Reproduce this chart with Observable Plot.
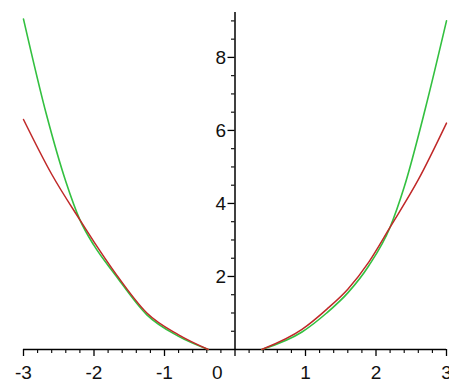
<!DOCTYPE html>
<html>
<head>
<meta charset="utf-8">
<script src="https://cdn.jsdelivr.net/npm/d3@7"></script>
<script src="https://cdn.jsdelivr.net/npm/@observablehq/plot@0.6"></script>
<style>
  html, body { margin: 0; padding: 0; background: #fff; }
  svg { display: block; }
</style>
</head>
<body>
<div id="chart"></div>
<script>
// Values
const redLeftX  = [-3.0, -2.6, -2.2, -2.0, -1.7, -1.25, -0.8, -0.38];
const redLeftY  = [6.3, 4.8, 3.55, 2.95, 2.1, 1.0, 0.4, 0.0];
const greenLeftX = [-3.0, -2.67, -2.4, -2.2, -2.0, -1.7, -1.25, -0.8, -0.38];
const greenLeftY = [9.05, 6.4, 4.6, 3.55, 2.85, 2.05, 0.95, 0.36, 0.0];
const redRightX = [0.38, 0.95, 1.3, 1.6, 1.9, 2.2, 2.6, 3.0];
const redRightY = [0.0, 0.55, 1.1, 1.65, 2.4, 3.35, 4.65, 6.2];
const greenRightX = [0.38, 0.95, 1.3, 1.6, 1.9, 2.2, 2.4, 2.7, 3.0];
const greenRightY = [0.0, 0.48, 1.0, 1.55, 2.3, 3.35, 4.45, 6.6, 9.0];

const xMajor = [-3, -2, -1, 0, 1, 2, 3];
const xLabels = ["-3", "-2", "-1", "0", "1", "2", "3"];
const yMajor = [2, 4, 6, 8];
const yLabels = ["2", "4", "6", "8"];
const yTop = 9.23;

const seg = (xs, ys, series, part) => xs.map((x, i) => ({x, y: ys[i], series, part}));
const curves = [
  ...seg(greenLeftX, greenLeftY, "green", "L"),
  ...seg(greenRightX, greenRightY, "green", "R"),
  ...seg(redLeftX, redLeftY, "red", "L"),
  ...seg(redRightX, redRightY, "red", "R")
];

const xMinor = d3.range(-3, 3.0001, 0.2).map(v => Math.round(v * 10) / 10)
  .filter(v => Math.abs(v - Math.round(v)) > 1e-6);
const yMinor = d3.range(0.5, 9.01, 0.5).filter(v => v % 2 !== 0);

const pxPerX = 70.5; // used only to convert tick lengths to data units
const font = "'Liberation Sans', Arial, sans-serif";

const chart = Plot.plot({
  width: 449,
  height: 384,
  marginLeft: 23,
  marginRight: 3,
  marginTop: 12,
  marginBottom: 35,
  x: {domain: [-3, 3], axis: null, label: null},
  y: {domain: [0, yTop], axis: null, label: null},
  style: {background: "#fff", fontFamily: font},
  marks: [
    // axes lines
    Plot.ruleY([0], {x1: -3, x2: 3, stroke: "#000", strokeWidth: 1.5}),
    Plot.ruleX([0], {y1: 0, y2: yTop, stroke: "#000", strokeWidth: 1.5}),
    // x ticks (downward)
    Plot.axisX({ticks: xMajor, tickSize: 7, tickFormat: () => "", label: null, stroke: "#000", strokeWidth: 1.3}),
    Plot.axisX({ticks: xMinor, tickSize: 4, tickFormat: () => "", label: null, stroke: "#000", strokeWidth: 1.1}),
    // y ticks (to the left of the axis)
    Plot.ruleY(yMajor, {y: d => d, x1: -7 / pxPerX, x2: 0, stroke: "#000", strokeWidth: 1.3}),
    Plot.ruleY(yMinor, {y: d => d, x1: -3.5 / pxPerX, x2: 0, stroke: "#000", strokeWidth: 1.1}),
    // labels
    Plot.text(xMajor, {
      x: d => d === 0 ? -0.25 : d, y: 0, text: (d, i) => xLabels[i],
      dy: 23, fontSize: 19, fill: "#111"
    }),
    Plot.text(yMajor, {
      x: 0, y: d => d, text: (d, i) => yLabels[i],
      dx: -9, textAnchor: "end", fontSize: 19, fill: "#111"
    }),
    // curves
    Plot.line(curves.filter(d => d.series === "green"), {
      x: "x", y: "y", z: "part", stroke: "#33c040", strokeWidth: 1.6, curve: "monotone-x"
    }),
    Plot.line(curves.filter(d => d.series === "red"), {
      x: "x", y: "y", z: "part", stroke: "#c02828", strokeWidth: 1.5, curve: "monotone-x"
    })
  ]
});
document.getElementById("chart").appendChild(chart);
</script>
</body>
</html>
